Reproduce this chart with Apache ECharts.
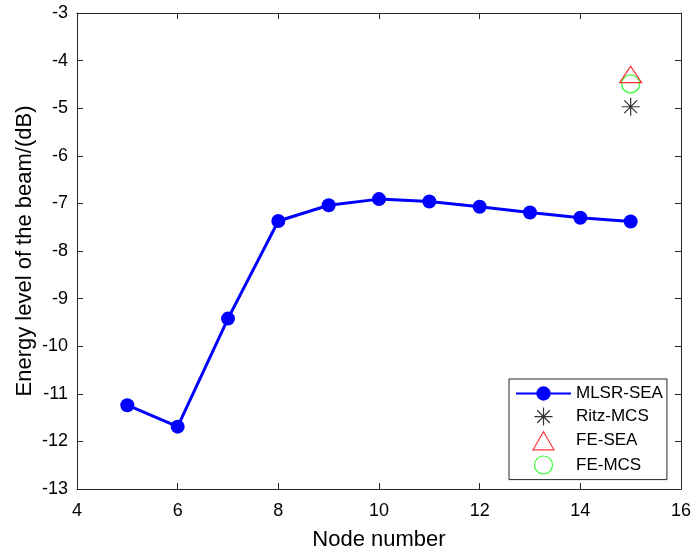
<!DOCTYPE html>
<html>
<head>
<meta charset="utf-8">
<script src="https://cdn.jsdelivr.net/npm/echarts@6/dist/echarts.min.js"></script>
<style>
  html, body { margin: 0; padding: 0; background: #fff; }
  #main { width: 694px; height: 556px; }
</style>
</head>
<body>
<div id="main"></div>
<script>
// node numbers and energy levels (dB)
var nodes = [5, 6, 7, 8, 9, 10, 11, 12, 13, 14, 15];
var mlsrSea = [-11.24, -11.69, -9.42, -7.37, -7.04, -6.91, -6.96, -7.07, -7.19, -7.30, -7.38];
var ritzMcs = [[15, -4.97]];
var feSea = [[15, -4.29]];
var feMcs = [[15, -4.49]];

var font = 'Liberation Sans';
var axisColor = '#262626';

// matlab-like markers
var starPath = 'path://M0,5L10,5M5,0L5,10M1.46,1.46L8.54,8.54M8.54,1.46L1.46,8.54';
var triPath = 'path://M11,0L22,19L0,19Z';

var chart = echarts.init(document.getElementById('main'));

var baseX = {
    type: 'value',
    min: 4,
    max: 16,
    interval: 2,
    axisLine: {show: true, onZero: false, lineStyle: {color: axisColor, width: 1}},
    axisTick: {show: true, inside: true, length: 6, lineStyle: {color: axisColor}},
    splitLine: {show: false}
};
var baseY = {
    type: 'value',
    min: -13,
    max: -3,
    interval: 1,
    axisLine: {show: true, onZero: false, lineStyle: {color: axisColor, width: 1}},
    axisTick: {show: true, inside: true, length: 6, lineStyle: {color: axisColor}},
    splitLine: {show: false}
};

var option = {
    animation: false,
    backgroundColor: '#fff',
    grid: {left: 77, right: 12, top: 13, bottom: 65},
    xAxis: [
        Object.assign({}, baseX, {
            position: 'bottom',
            name: 'Node number',
            nameLocation: 'middle',
            nameGap: 40,
            nameMoveOverlap: false,
            nameTextStyle: {fontFamily: font, fontSize: 22, color: '#000'},
            axisLabel: {fontFamily: font, fontSize: 18, color: '#000', margin: 13}
        }),
        Object.assign({}, baseX, {position: 'top', axisLabel: {show: false}})
    ],
    yAxis: [
        Object.assign({}, baseY, {
            position: 'left',
            name: 'Energy level of the beam/(dB)',
            nameLocation: 'middle',
            nameGap: 41,
            nameMoveOverlap: false,
            nameTextStyle: {fontFamily: font, fontSize: 22, color: '#000'},
            axisLabel: {fontFamily: font, fontSize: 18, color: '#000', margin: 9}
        }),
        Object.assign({}, baseY, {position: 'right', axisLabel: {show: false}})
    ],
    legend: {
        orient: 'vertical',
        left: 509,
        top: 379,
        padding: [6, 4, 5, 6],
        itemWidth: 55,
        itemHeight: 18,
        itemGap: 5,
        symbolKeepAspect: true,
        backgroundColor: '#fff',
        borderColor: axisColor,
        borderWidth: 1,
        borderRadius: 0,
        textStyle: {fontFamily: font, fontSize: 17, color: '#000'},
        data: [
            {name: 'MLSR-SEA'},
            {name: 'Ritz-MCS', icon: starPath, itemStyle: {borderWidth: 1.2}},
            {name: 'FE-SEA', icon: triPath, itemStyle: {borderWidth: 1.2}},
            {name: 'FE-MCS', itemStyle: {borderWidth: 1.2}}
        ]
    },
    series: [
        {
            name: 'MLSR-SEA',
            type: 'line',
            data: nodes.map(function (n, i) { return [n, mlsrSea[i]]; }),
            symbol: 'circle',
            symbolSize: 14,
            lineStyle: {color: '#0000ff', width: 3},
            itemStyle: {color: '#0000ff'}
        },
        {
            name: 'Ritz-MCS',
            type: 'scatter',
            data: ritzMcs,
            symbol: starPath,
            symbolSize: 18,
            symbolKeepAspect: true,
            itemStyle: {color: 'transparent', borderColor: '#000', borderWidth: 1.2}
        },
        {
            name: 'FE-MCS',
            type: 'scatter',
            data: feMcs,
            symbol: 'circle',
            symbolSize: 18,
            itemStyle: {color: 'transparent', borderColor: '#00ff00', borderWidth: 1.2}
        },
        {
            name: 'FE-SEA',
            type: 'scatter',
            data: feSea,
            symbol: triPath,
            symbolSize: [22, 19],
            symbolKeepAspect: true,
            itemStyle: {color: 'transparent', borderColor: '#ff0000', borderWidth: 1.2}
        }
    ]
};

chart.setOption(option);
</script>
</body>
</html>
